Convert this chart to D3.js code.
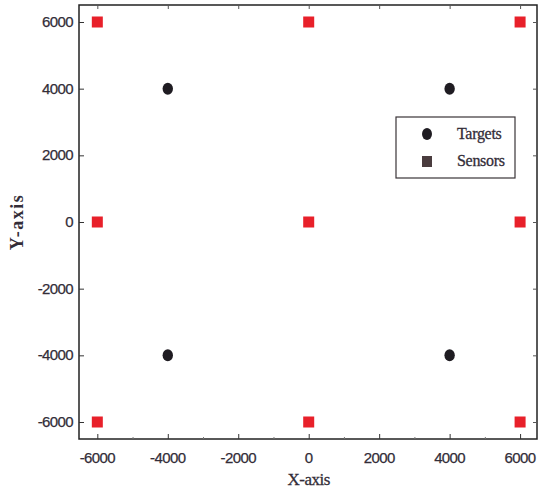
<!DOCTYPE html>
<html><head><meta charset="utf-8">
<script src="https://cdn.jsdelivr.net/npm/d3@7"></script>
<style>body{margin:0;background:#fff}</style>
</head><body>
<svg id="c" width="543" height="494"></svg>
<script>
const targetsX = [-4000, 4000, -4000, 4000];
const targetsY = [4000, 4000, -4000, -4000];
const sensorsX = [-6000, 0, 6000, -6000, 0, 6000, -6000, 0, 6000];
const sensorsY = [6000, 6000, 6000, 0, 0, 0, -6000, -6000, -6000];
const tickValues = [-6000, -4000, -2000, 0, 2000, 4000, 6000];
const minorTicks = [-5000, -3000, -1000, 1000, 3000, 5000];
const legendLabels = ["Targets", "Sensors"];

const svg = d3.select("#c");
const L = 79, R = 537, T = 5, B = 439;
const x = d3.scaleLinear().domain([-6520, 6480]).range([L, R]);
const y = d3.scaleLinear().domain([-6510, 6510]).range([B, T]);
const txt = "#332d38";
const tickFont = "'Liberation Sans', Arial, sans-serif";

svg.append("rect").attr("x", L).attr("y", T).attr("width", R - L).attr("height", B - T)
  .attr("fill", "none").attr("stroke", "#222").attr("stroke-width", 1.5);

const xAxis = svg.append("g").attr("transform", `translate(0,${B})`)
  .call(d3.axisTop(x).tickValues(tickValues).tickSize(5).tickFormat(""));
xAxis.select(".domain").remove();
xAxis.selectAll("line").attr("stroke", "#333");
const xMinor = svg.append("g").attr("transform", `translate(0,${B})`)
  .call(d3.axisTop(x).tickValues(minorTicks).tickSize(2).tickFormat(""));
xMinor.select(".domain").remove();
xMinor.selectAll("line").attr("stroke", "#777");

svg.append("g").selectAll("text").data(tickValues).join("text")
  .attr("x", d => x(d)).attr("y", B + 24).attr("text-anchor", "middle")
  .attr("font-family", tickFont).attr("font-size", 15).attr("fill", txt)
  .attr("stroke", txt).attr("stroke-width", 0.25)
  .attr("letter-spacing", -0.6).text(d => d);

const yAxis = svg.append("g").attr("transform", `translate(${L},0)`)
  .call(d3.axisRight(y).tickValues(tickValues).tickSize(5).tickFormat(""));
yAxis.select(".domain").remove();
yAxis.selectAll("line").attr("stroke", "#333");

svg.append("g").selectAll("text").data(tickValues).join("text")
  .attr("x", L - 6).attr("y", d => y(d) + 5).attr("text-anchor", "end")
  .attr("font-family", tickFont).attr("font-size", 15).attr("fill", txt)
  .attr("stroke", txt).attr("stroke-width", 0.25)
  .attr("letter-spacing", -0.6).text(d => d);

const xTop = svg.append("g").attr("transform", `translate(0,${T})`)
  .call(d3.axisBottom(x).tickValues(tickValues).tickSize(4).tickFormat(""));
xTop.select(".domain").remove();
xTop.selectAll("line").attr("stroke", "#555");
const yRight = svg.append("g").attr("transform", `translate(${R},0)`)
  .call(d3.axisLeft(y).tickValues(tickValues).tickSize(4).tickFormat(""));
yRight.select(".domain").remove();
yRight.selectAll("line").attr("stroke", "#555");

svg.append("text").attr("x", x(0)).attr("y", 485).attr("text-anchor", "middle")
  .attr("font-family", "'Liberation Serif', 'Times New Roman', serif").attr("font-size", 17)
  .attr("fill", txt).attr("stroke", txt).attr("stroke-width", 0.3)
  .attr("letter-spacing", -0.5).text("X-axis");
svg.append("text").attr("transform", `translate(23,${y(0)}) rotate(-90)`).attr("text-anchor", "middle")
  .attr("font-family", "'Liberation Serif', 'Times New Roman', serif").attr("font-size", 18)
  .attr("font-weight", "bold").attr("letter-spacing", 1.5).attr("fill", txt).text("Y-axis");

const sq = 11;
svg.append("g").selectAll("rect").data(sensorsX.map((d, i) => [d, sensorsY[i]])).join("rect")
  .attr("x", d => x(d[0]) - sq / 2).attr("y", d => y(d[1]) - sq / 2)
  .attr("width", sq).attr("height", sq).attr("fill", "#e8202a");

svg.append("g").selectAll("ellipse").data(targetsX.map((d, i) => [d, targetsY[i]])).join("ellipse")
  .attr("cx", d => x(d[0])).attr("cy", d => y(d[1])).attr("rx", 5.2).attr("ry", 6)
  .attr("fill", "#1f1c22");

const lg = svg.append("g");
lg.append("rect").attr("x", 396).attr("y", 117).attr("width", 119).attr("height", 61)
  .attr("fill", "#fff").attr("stroke", "#3a3438").attr("stroke-width", 1.2);
lg.append("ellipse").attr("cx", 427).attr("cy", 134).attr("rx", 5).attr("ry", 6).attr("fill", "#1f1c22");
lg.append("rect").attr("x", 422).attr("y", 156).attr("width", 10).attr("height", 11).attr("fill", "#4a3c3e");
lg.selectAll("text.l").data(legendLabels).join("text").attr("class", "l")
  .attr("x", 457).attr("y", (d, i) => 139 + i * 27)
  .attr("font-family", "'Liberation Serif', 'Times New Roman', serif").attr("font-size", 16)
  .attr("fill", txt).attr("stroke", txt).attr("stroke-width", 0.3)
  .attr("letter-spacing", -0.3).text(d => d);
</script>
</body></html>
